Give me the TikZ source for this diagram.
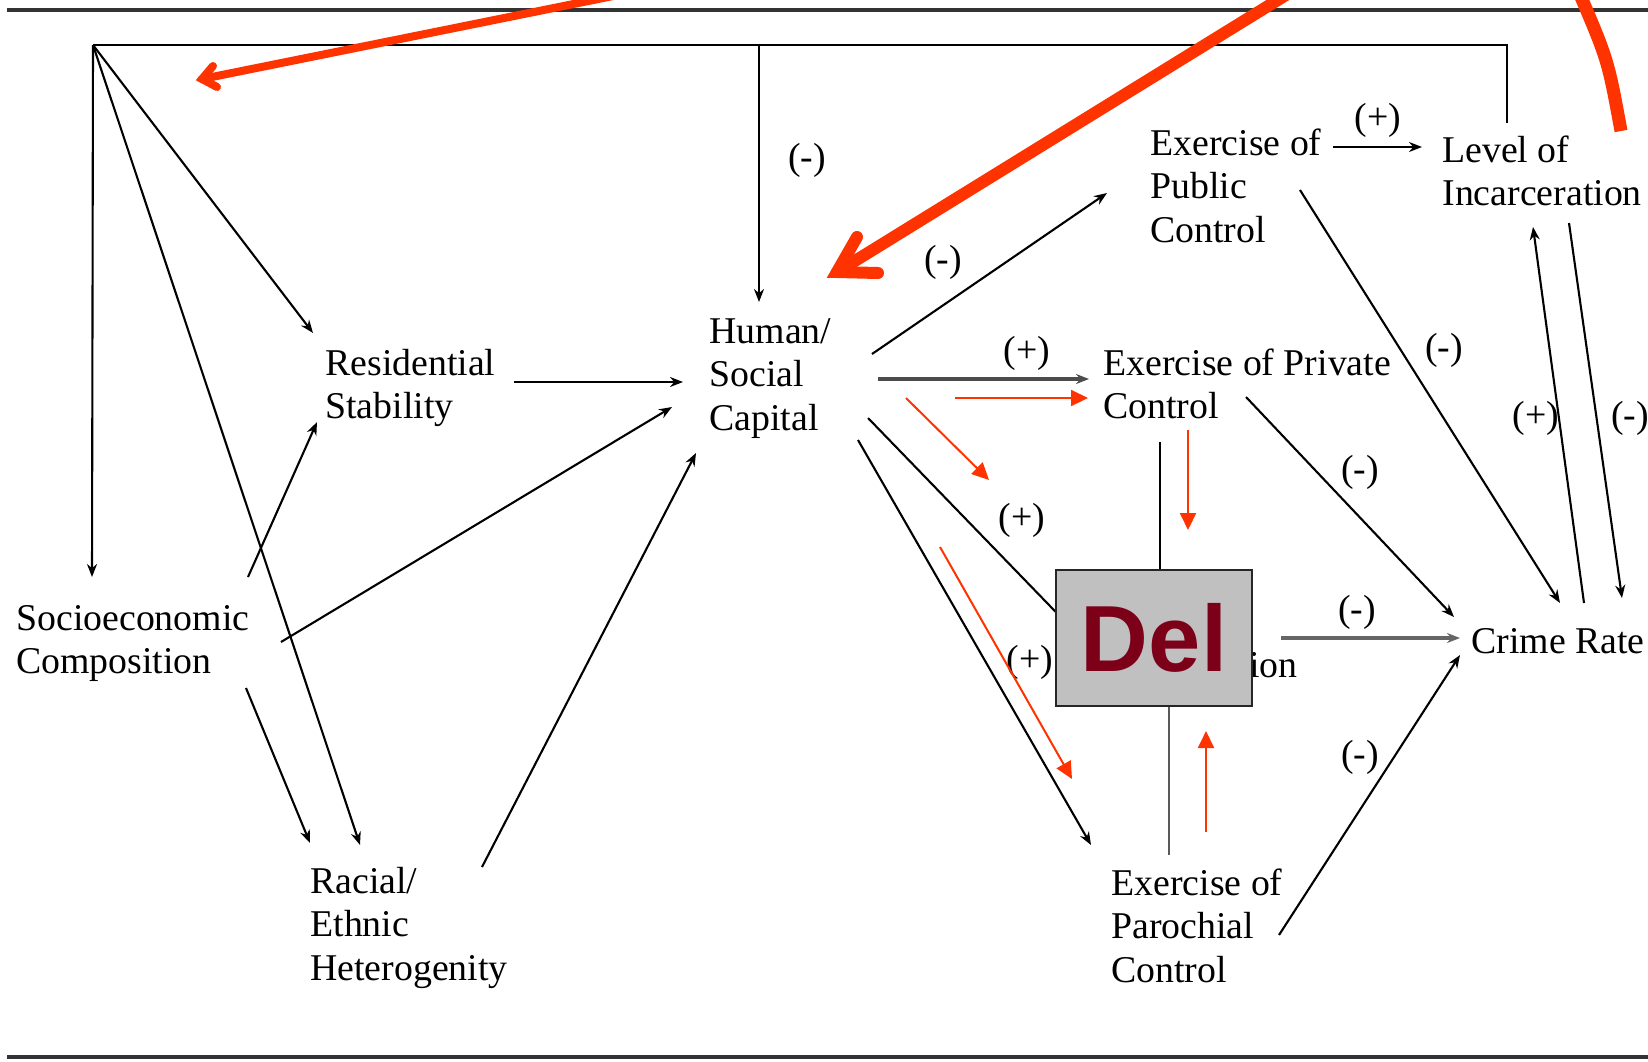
\documentclass[tikz,border=0pt]{standalone}
\usepackage{fontspec}
\setmainfont{Liberation Serif}
\newfontfamily\delfont{Liberation Sans}
\usetikzlibrary{arrows.meta}

\definecolor{annot}{HTML}{FF3300}
\definecolor{delred}{RGB}{125,0,25}
\definecolor{delgray}{HTML}{C0C0C0}

% multi-line label whose baseline is that of its first line
\newcommand{\stack}[1]{\begin{tabular}[t]{@{}l@{}}#1\end{tabular}}

\begin{document}
\begin{tikzpicture}[x=0.5pt, y=-0.5pt,
  concept/.style={inner sep=0pt, anchor=base west, font=\fontsize{18.9}{21.75}\selectfont},
  sign/.style={inner sep=0pt, font=\fontsize{18.9}{21.75}\selectfont},
  link/.style={line width=1.05pt, -{Stealth[length=6.5pt,width=5pt]}},
  plain/.style={line width=1.05pt},
  note/.style={draw=annot, line width=1pt, -{Triangle[length=8.5pt,width=8pt]}},
  bigred/.style={draw=annot, line cap=round, line join=miter},
  rule/.style={draw=black!80, line width=1.6pt}]

\useasboundingbox (0,0) rectangle (1648,1061);
\clip (0,0) rectangle (1648,1061);

% page rules
\draw[rule] (7,10) -- (1648,10);
\draw[rule, line width=2pt] (7,1057) -- (1648,1057);

% concepts
\node[concept] (soc)   at (16,630)   {\stack{Socioeconomic\\Composition}};
\node[concept] (res)   at (325,375)  {\stack{Residential\\Stability}};
\node[concept] (rac)   at (310,893)  {\stack{Racial/\\Ethnic\\Heterogenity}};
\node[concept] (hum)   at (709,343)  {\stack{Human/\\Social\\Capital}};
\node[concept] (pub)   at (1150,155) {\stack{Exercise of\\Public\\Control}};
\node[concept] (lev)   at (1442,162) {\stack{Level of\\Incarceration}};
\node[concept] (pri)   at (1103,375) {\stack{Exercise of Private\\Control}};
\node[concept] (par)   at (1111,895) {\stack{Exercise of\\Parochial\\Control}};
\node[concept] (crime) at (1471,653) {Crime Rate};
\node[concept, anchor=base east] (sup) at (1298,677) {ion};

% feedback loop from incarceration back to the structural factors
\coordinate (corner) at (93,45);
\coordinate (lvTop) at ([shift={(65,-39)}]lev.base west);
\coordinate (hx) at ([shift={(50,-41)}]hum.base west);
\draw[plain] (lvTop) |- (corner);
\draw[link] (corner) -- ([shift={(76,-53)}]soc.base west);
\draw[link] (corner) -- ([shift={(-12,-42)}]res.base west);
\draw[link] (corner) -- ([shift={(50,-48)}]rac.base west);
\draw[link] (hx |- corner) -- (hx);

% structural factors
\draw[link] ([shift={(189,7)}]res.base west) -- ([shift={(-26,39)}]hum.base west);
\draw[link] ([shift={(232,-53)}]soc.base west) -- ([shift={(-8,47)}]res.base west);
\draw[link] ([shift={(265,12)}]soc.base west) -- ([shift={(-37,64)}]hum.base west);
\draw[link] ([shift={(230,58)}]soc.base west) -- ([shift={(0,-50)}]rac.base west);
\draw[link] ([shift={(172,-26)}]rac.base west) -- ([shift={(-13,110)}]hum.base west);

% social capital to the forms of control
\draw[link] ([shift={(163,11)}]hum.base west) -- ([shift={(-43,38)}]pub.base west);
\draw[link, line width=1.7pt, draw=black!70] ([shift={(169,36)}]hum.base west) -- ([shift={(-14,4)}]pri.base west);
\draw[link] ([shift={(159,75)}]hum.base west) -- ([shift={(-218,-40)}]sup.base east);
\draw[link] ([shift={(149,97)}]hum.base west) -- ([shift={(-20,-50)}]par.base west);
\draw[plain] ([shift={(57,67)}]pri.base west) -- ([shift={(-138,-37)}]sup.base east);
\draw[plain, draw=black!65] ([shift={(58,-40)}]par.base west) -- ([shift={(-129,-17)}]sup.base east);

% control to incarceration and crime
\draw[link] ([shift={(183,-8)}]pub.base west) -- ([shift={(-20,-15)}]lev.base west);
\draw[link] ([shift={(150,35)}]pub.base west) -- ([shift={(89,-50)}]crime.base west);
\draw[link] ([shift={(143,22)}]pri.base west) -- ([shift={(-17,-36)}]crime.base west);
\draw[link, line width=1.6pt, draw=black!60] ([shift={(-17,-39)}]sup.base east) -- ([shift={(-11,-15)}]crime.base west);
\draw[link] ([shift={(168,40)}]par.base west) -- ([shift={(-11,2)}]crime.base west);
\draw[link] ([shift={(113,-50)}]crime.base west) -- ([shift={(91,65)}]lev.base west);
\draw[link] ([shift={(127,61)}]lev.base west) -- ([shift={(151,-55)}]crime.base west);

% signs
\node[sign] (s1)  at (807,160)  {(-)};
\node[sign] (s2)  at (943,262)  {(-)};
\node[sign] (s3)  at (1027,353) {(+)};
\node[sign] (s4)  at (1022,520) {(+)};
\node[sign] (s5)  at (1030,662) {(+)};
\node[sign] (s6)  at (1378,120) {(+)};
\node[sign] (s7)  at (1444,350) {(-)};
\node[sign] (s8)  at (1360,472) {(-)};
\node[sign] (s9)  at (1357,612) {(-)};
\node[sign] (s10) at (1360,757) {(-)};
\node[sign] (s11) at (1536,418) {(+)};
\node[sign] (s12) at (1630,418) {(-)};

% deletion mark
\node[draw=black!85, line width=1pt, fill=delgray, minimum width=98pt, minimum height=68pt,
      inner sep=0pt, text=delred, font=\delfont\bfseries\fontsize{47}{47}\selectfont]
      (del) at (1154,638) {Del};

% red markup
\coordinate (r1a) at (955,398);  \coordinate (r1b) at (1088,398);
\coordinate (r2a) at (906,398);  \coordinate (r2b) at (989,480);
\coordinate (r3a) at (1188,430); \coordinate (r3b) at (1188,530);
\coordinate (r4a) at (940,547);  \coordinate (r4b) at (1072,779);
\coordinate (r5a) at (1206,832); \coordinate (r5b) at (1206,731);
\draw[note] (r1a) -- (r1b);
\draw[note] (r2a) -- (r2b);
\draw[note] (r3a) -- (r3b);
\draw[note] (r4a) -- (r4b);
\draw[note] (r5a) -- (r5b);

\coordinate (b1s) at (633,-8);   \coordinate (b1v) at (202,79);
\coordinate (b1u) at (213,66);   \coordinate (b1l) at (217,87);
\draw[bigred, line width=4pt] (b1s) -- (b1v);
\draw[bigred, line width=4pt] (b1u) -- (b1v) -- (b1l);

\coordinate (b2s) at (1294,-10); \coordinate (b2v) at (837,272);
\coordinate (b2u) at (857,237);  \coordinate (b2l) at (878,273);
\draw[bigred, line width=6pt] (b2s) -- (b2v);
\draw[bigred, line width=6pt] (b2u) -- (b2v) -- (b2l);

\coordinate (c1s) at (1578,-10); \coordinate (c1e) at (1621,131);
\draw[draw=annot, line width=6.5pt] (c1s) .. controls (1608,60) .. (c1e);
\end{tikzpicture}
\end{document}
